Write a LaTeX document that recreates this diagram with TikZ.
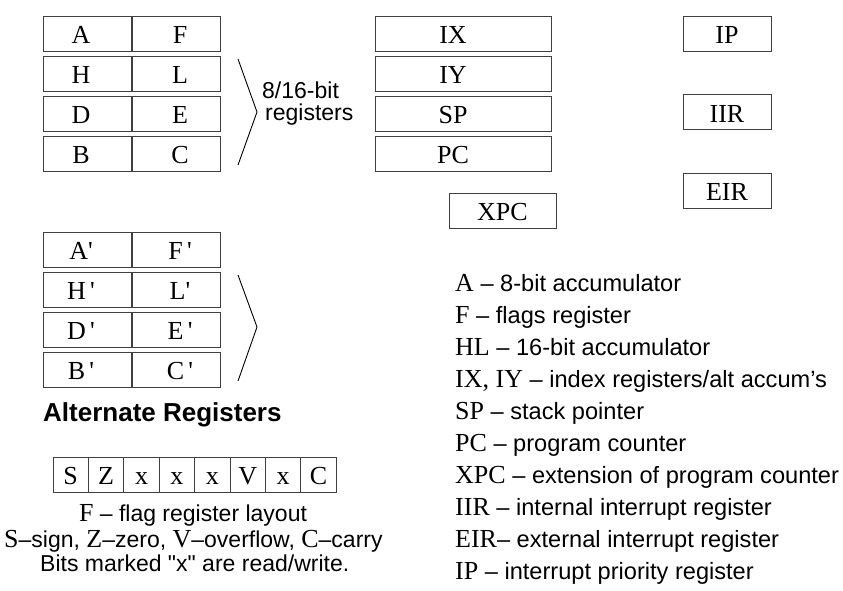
\documentclass[tikz,border=0pt]{standalone}
\usepackage{fontspec}
\setmainfont{Liberation Serif}
\setsansfont{Liberation Sans}
\usetikzlibrary{positioning}

\newcommand\abbr[1]{{\rmfamily\fontsize{26}{30}\selectfont #1}}

\tikzset{
  reg/.style={draw=black!75, line width=1pt, inner sep=0pt, minimum height=35pt,
    text height=20pt, text depth=0pt, font=\fontsize{26}{30}\selectfont},
  half/.style={reg, minimum width=88pt},
  lft/.style={half, execute at begin node={\hspace*{-12pt}}},
  rgt/.style={half, execute at end node={\hspace*{-8pt}}},
  wide/.style={reg, minimum width=176pt, execute at begin node={\hspace*{-20pt}}},
  bit/.style={reg, minimum width=35.4pt},
  note/.style={inner sep=0pt, font=\sffamily\fontsize{23}{28}\selectfont},
  legend/.style={note, anchor=base west, font=\sffamily\fontsize{23.6}{28}\selectfont},
  brace/.style={line width=0.9pt}
}

\begin{document}
\begin{tikzpicture}[x=1pt,y=-1pt]

    \useasboundingbox (0,0) rectangle (843,590);

    % Main registers
    \node[lft]                  (A) at (87,33.5) {A} ; %
    \node[rgt, right=0pt of A]  (F)  {F} ; %
    \node[lft, below=4pt of A]  (H)  {H} ; %
    \node[rgt, right=0pt of H]  (L)  {L} ; %
    \node[lft, below=4pt of H]  (D)  {D} ; %
    \node[rgt, right=0pt of D]  (E)  {E} ; %
    \node[lft, below=4pt of D]  (B)  {B} ; %
    \node[rgt, right=0pt of B]  (C)  {C} ; %

    \draw[brace] (238,59) -- (257,112) -- (238,165);
    \node[note, anchor=base west] (bits) at (262,98)  {8/16-bit};
    \node[note, anchor=base west] (regs) at (265,120) {registers};

    % Wide registers
    \node[wide]                  (IX) at (463,33.5) {IX} ; %
    \node[wide, below=4pt of IX] (IY) {IY} ; %
    \node[wide, below=4pt of IY] (SP) {SP} ; %
    \node[wide, below=4pt of SP] (PC) {PC} ; %
    \node[reg, minimum width=107pt] (XPC) at (502.5,210.5) {XPC} ; %

    % Interrupt registers
    \node[half] (IP)  at (727,33.5)  {IP} ; %
    \node[half] (IIR) at (727,112)   {IIR} ; %
    \node[half] (EIR) at (727,190.5) {EIR} ; %

    % Alternate registers
    \node[lft]                   (A2) at (87,249.5) {A\textquotesingle} ; %
    \node[rgt, right=0pt of A2]  (F2) {F\,\textquotesingle} ; %
    \node[lft, below=4pt of A2]  (H2) {H\,\textquotesingle} ; %
    \node[rgt, right=0pt of H2]  (L2) {L\textquotesingle} ; %
    \node[lft, below=4pt of H2]  (D2) {D\,\textquotesingle} ; %
    \node[rgt, right=0pt of D2]  (E2) {E\,\textquotesingle} ; %
    \node[lft, below=4pt of D2]  (B2) {B\,\textquotesingle} ; %
    \node[rgt, right=0pt of B2]  (C2) {C\,\textquotesingle} ; %

    \draw[brace] (238,275) -- (257,327) -- (238,381);
    \node[note, anchor=base west, font=\sffamily\bfseries\fontsize{26}{30}\selectfont]
      (alt) at (43,421) {Alternate Registers};

    % Flag register
    \foreach \b [count=\i] in {S,Z,x,x,x,V,x,C}
      \node[bit] (bit\i) at ({53+35.4*(\i-0.5)},474.5) {\b};
    \node[note, anchor=base] (flags) at (193,521) {\abbr{F} – flag register layout};
    \node[note, anchor=base west] (codes) at (4,547)
      {\abbr{S}–sign, \abbr{Z}–zero, \abbr{V}–overflow, \abbr{C}–carry};
    \node[note, anchor=base west] (rw) at (40,571)
      {Bits marked \textquotedbl x\textquotedbl{} are read/write.};

    % Legend
    \foreach \txt [count=\i from 0] in {
        {\abbr{A} – 8-bit accumulator},
        {\abbr{F} – flags register},
        {\abbr{HL} – 16-bit accumulator},
        {\abbr{IX, IY} – index registers/alt accum’s},
        {\abbr{SP} – stack pointer},
        {\abbr{PC} – program counter},
        {\abbr{XPC} – extension of program counter},
        {\abbr{IIR} – internal interrupt register},
        {\abbr{EIR}– external interrupt register},
        {\abbr{IP} – interrupt priority register}}
      \node[legend] (leg\i) at (455,{291+32.1*\i}) {\txt};

\end{tikzpicture}
\end{document}
